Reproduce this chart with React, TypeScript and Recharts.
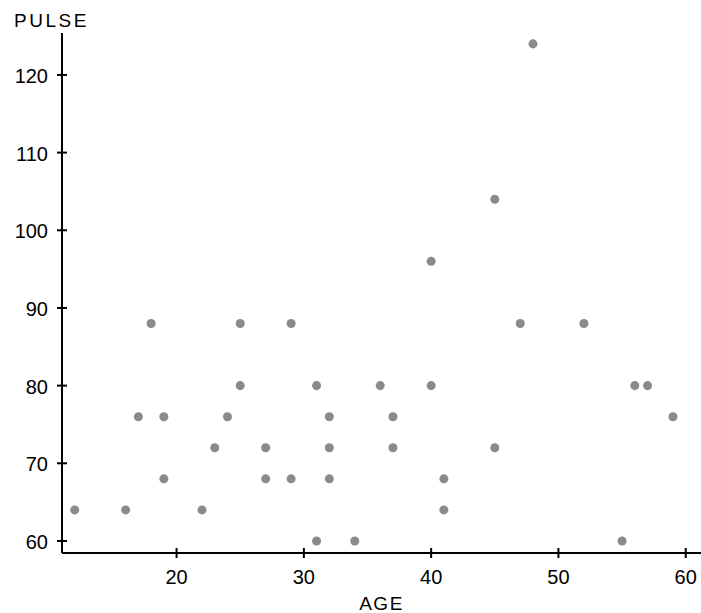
import React from "react";
import { ScatterChart, Scatter, XAxis, YAxis, ZAxis } from "recharts";

const AGE = [12, 16, 17, 18, 19, 19, 22, 23, 24, 25, 25, 27, 27, 29, 29, 31, 31, 32, 32, 32, 34, 36, 37, 37, 40, 40, 41, 41, 45, 45, 47, 48, 52, 55, 56, 57, 59];
const PULSE = [64, 64, 76, 88, 76, 68, 64, 72, 76, 80, 88, 72, 68, 68, 88, 60, 80, 76, 72, 68, 60, 80, 76, 72, 96, 80, 68, 64, 104, 72, 88, 124, 88, 60, 80, 80, 76];
const X_TICKS = [20, 30, 40, 50, 60];
const Y_TICKS = [60, 70, 80, 90, 100, 110, 120];

const data = AGE.map((a, i) => ({ age: a, pulse: PULSE[i] }));

const FONT = "'Liberation Sans', Arial, sans-serif";
const X_MARGIN = 17;
const Y_MARGIN = 14;

function XTick(props: any) {
  const { x, y, payload } = props;
  const ay = y - X_MARGIN;
  return (
    <g>
      <line x1={x} x2={x} y1={ay - 5} y2={ay + 5} stroke="#000" strokeWidth={2} />
      <text x={x} y={y} dy="0.71em" textAnchor="middle" fontSize={20} fill="#000" fontFamily={FONT}>
        {payload.value}
      </text>
    </g>
  );
}

function YTick(props: any) {
  const { x, y, payload } = props;
  const ax = x + Y_MARGIN;
  return (
    <g>
      <line x1={ax - 5} x2={ax + 5} y1={y} y2={y} stroke="#000" strokeWidth={2} />
      <text x={x} y={y} dy="0.4em" textAnchor="end" fontSize={20} fill="#000" fontFamily={FONT}>
        {payload.value}
      </text>
    </g>
  );
}

export default function App() {
  return (
    <div style={{ position: "absolute", left: 0, top: 0, background: "#fff" }}>
      <ScatterChart width={701} height={613} margin={{ top: 33, right: 0, bottom: 0, left: 0 }}>
        <XAxis
          type="number"
          dataKey="age"
          domain={[11, 61.2]}
          ticks={X_TICKS}
          allowDataOverflow
          height={60}
          tickSize={0}
          tickMargin={X_MARGIN}
          axisLine={{ stroke: "#000", strokeWidth: 2 }}
          tickLine={false}
          tick={<XTick />}
          label={{
            value: "AGE",
            position: "insideBottom",
            offset: 3,
            fontSize: 19,
            fill: "#000",
            fontFamily: FONT,
            letterSpacing: 1.5,
          }}
        />
        <YAxis
          type="number"
          dataKey="pulse"
          domain={[58.45, 125.4]}
          ticks={Y_TICKS}
          allowDataOverflow
          width={62}
          tickSize={0}
          tickMargin={Y_MARGIN}
          axisLine={{ stroke: "#000", strokeWidth: 2 }}
          tickLine={false}
          tick={<YTick />}
          label={{
            value: "PULSE",
            content: (p: any) => (
              <text
                x={p.viewBox.x + 14}
                y={p.viewBox.y - 6}
                fontSize={19}
                fill="#000"
                fontFamily={FONT}
                letterSpacing={2.5}
              >
                PULSE
              </text>
            ),
          }}
        />
        <ZAxis range={[90, 90]} />
        <Scatter data={data} fill="#8a8a8a" shape="circle" isAnimationActive={false} />
      </ScatterChart>
    </div>
  );
}
